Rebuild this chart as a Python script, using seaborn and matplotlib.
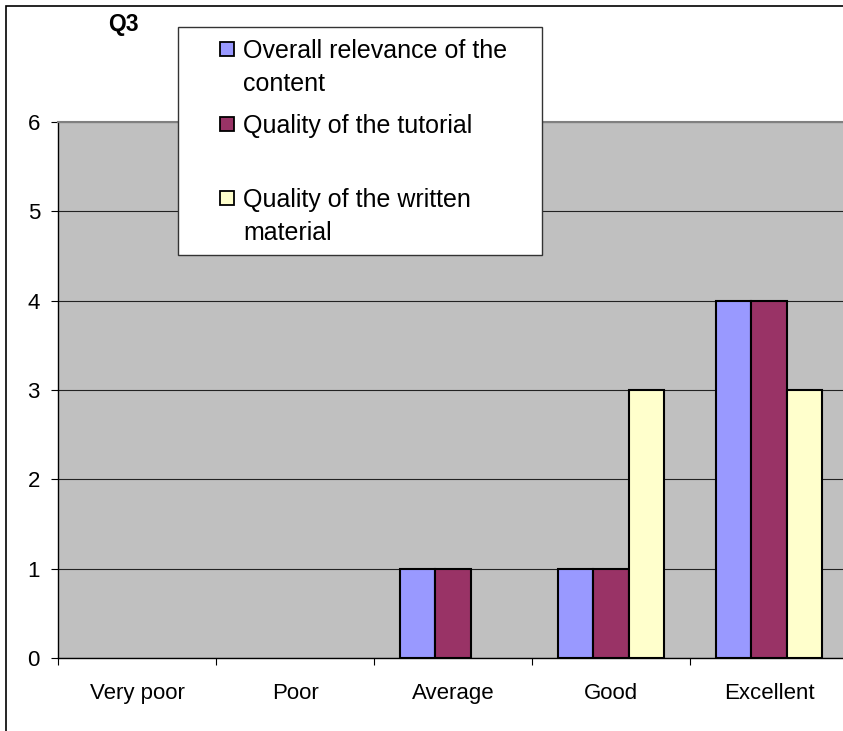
import matplotlib
matplotlib.use("Agg")
import matplotlib.pyplot as plt
from matplotlib.patches import Rectangle
import seaborn as sns
import pandas as pd

# data
categories = ['Very poor', 'Poor', 'Average', 'Good', 'Excellent']
series_names = ['Overall relevance of the content', 'Quality of the tutorial',
                'Quality of the written material']
relevance = [0, 0, 1, 1, 4]
tutorial = [0, 0, 1, 1, 4]
written = [0, 0, 0, 3, 3]
legend_labels = ['Overall relevance of the\ncontent', 'Quality of the tutorial',
                 'Quality of the written\nmaterial']
colors = ['#9999FF', '#993366', '#FFFFCC']
title = 'Q3'

df = pd.DataFrame({
    'category': categories * 3,
    'series': [series_names[0]] * 5 + [series_names[1]] * 5 + [series_names[2]] * 5,
    'value': relevance + tutorial + written,
})

plt.rcParams['font.family'] = ['Liberation Sans', 'DejaVu Sans']

W, H = 843, 731
fig = plt.figure(figsize=(W / 100, H / 100), dpi=100)


def fx(x):
    return x / W


def fy(y):
    return 1 - y / H


ax = fig.add_axes([fx(58), fy(658), (848 - 58) / W, (658 - 122) / H])
ax.set_facecolor('#C0C0C0')

sns.barplot(data=df, x='category', y='value', hue='series', order=categories,
            hue_order=series_names, palette=colors, width=0.67, gap=0,
            edgecolor='black', linewidth=1.5, saturation=1, legend=False, ax=ax)

# hide the outline of empty bars
for p in ax.patches:
    if p.get_height() == 0:
        p.set_linewidth(0)

ax.set_xlim(-0.5, 4.5)
ax.set_ylim(0, 6)
ax.set_yticks(range(7))
ax.set_xlabel('')
ax.set_ylabel('')
ax.yaxis.grid(True, color='#222222', linewidth=0.8)
ax.set_axisbelow(True)

ax.set_xticks(range(5))
ax.set_xticklabels(categories)
ax.set_xticks([i - 0.5 for i in range(6)], minor=True)
ax.tick_params(axis='x', which='major', length=0, pad=18, labelsize=16)
ax.tick_params(axis='x', which='minor', length=5, width=0.8)
ax.tick_params(axis='y', length=5, width=0.8, pad=8, labelsize=16)

for s in ['left', 'bottom']:
    ax.spines[s].set_color('black')
    ax.spines[s].set_linewidth(1.0)
ax.spines['top'].set_color('#808080')
ax.spines['top'].set_linewidth(1.5)
ax.spines['right'].set_visible(False)

# outer chart frame (only left and top edges visible)
fig.patches.append(Rectangle((fx(6), -0.2), 1.5, fy(6) + 0.2, transform=fig.transFigure,
                             fill=False, edgecolor='black', linewidth=1.2))

fig.text(fx(123), fy(25), title, ha='center', va='center', fontsize=16.5, fontweight='bold')

# legend box
fig.patches.append(Rectangle((fx(178), fy(255)), (542 - 178) / W, (255 - 27) / H,
                             transform=fig.transFigure, facecolor='white',
                             edgecolor='#333333', linewidth=1.0, zorder=5))
entry_y = [49, 124, 198]
for lab, col, y in zip(legend_labels, colors, entry_y):
    fig.patches.append(Rectangle((fx(220), fy(y + 7)), 14 / W, 14 / H,
                                 transform=fig.transFigure, facecolor=col,
                                 edgecolor='black', linewidth=1.3, zorder=6))
    fig.text(fx(243), fy(y - 10), lab, ha='left', va='top', fontsize=18,
             linespacing=1.45, zorder=7)

fig.savefig('out.png', dpi=100)
